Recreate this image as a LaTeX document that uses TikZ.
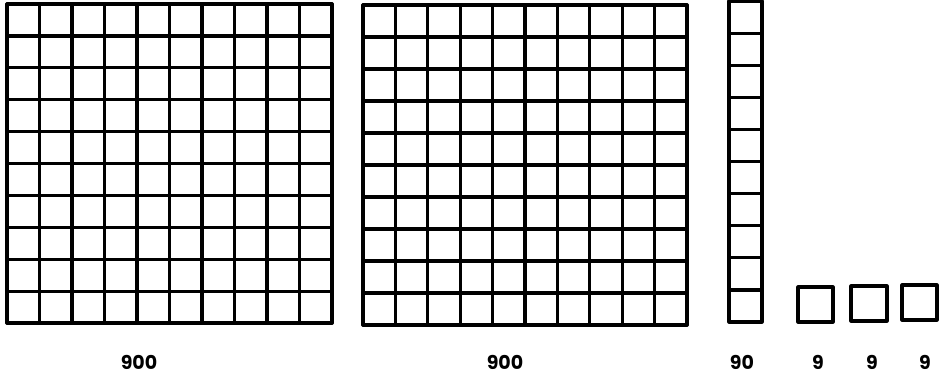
\documentclass[tikz,border=0pt]{standalone}
\usepackage{fontspec}
\newfontfamily\handfont{Poppins}
\usetikzlibrary{positioning}
\tikzset{
  blk/.style={line width=3.2pt, line cap=round, line join=round},
  lbl/.style={font=\handfont\bfseries\fontsize{19}{19}\selectfont, inner sep=0pt}
}

\begin{document}
\begin{tikzpicture}[x=1pt, y=-1pt]
  \useasboundingbox (0,0) rectangle (939,383);
  % first hundred-square
  \foreach \i in {0,...,10} {
    \draw[blk] ({7+32.5*\i},4) -- ({7+32.5*\i},323);
    \draw[blk] (7,{4+31.9*\i}) -- (332,{4+31.9*\i});
  }
  % second hundred-square
  \foreach \i in {0,...,10} {
    \draw[blk] ({363+32.4*\i},5) -- ({363+32.4*\i},325);
    \draw[blk] (363,{5+32*\i}) -- (687,{5+32*\i});
  }
  % the ten-rod
  \draw[blk] (729,1) rectangle (762,322);
  \foreach \j in {1,...,9}
    \draw[blk] (729,{1+32.1*\j}) -- (762,{1+32.1*\j});
  % units
  \draw[blk] (798,287) rectangle (833,322);
  \draw[blk] (851,286) rectangle (887,321);
  \draw[blk] (902,285) rectangle (937,320);
  % labels
  \node[lbl] (hundA) at (139,362) {900};
  \node[lbl] (hundB) at (505,362) {900};
  \node[lbl] (tens) at (742,362) {90};
  \node[lbl] (oneA) at (818,362) {9};
  \node[lbl] (oneB) at (872,362) {9};
  \node[lbl] (oneC) at (925,362) {9};
\end{tikzpicture}
\end{document}
